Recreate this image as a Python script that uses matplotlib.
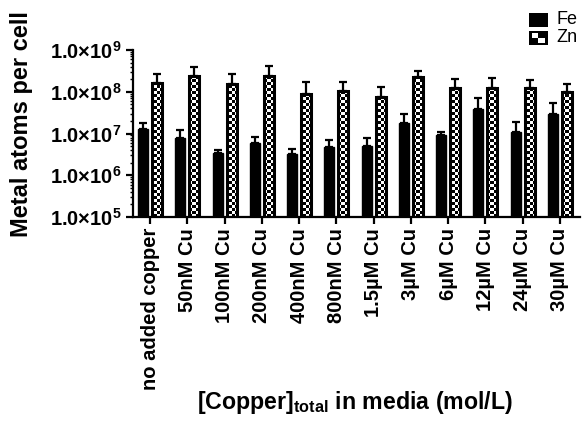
import numpy as np
import matplotlib
matplotlib.use("Agg")
import matplotlib.pyplot as plt
from matplotlib.ticker import LogLocator

plt.rcParams['font.family'] = ['Liberation Sans', 'DejaVu Sans']
plt.rcParams['mathtext.fontset'] = 'custom'
plt.rcParams['mathtext.rm'] = 'Liberation Sans:bold'
plt.rcParams['mathtext.bf'] = 'Liberation Sans:bold'
plt.rcParams['mathtext.it'] = 'Liberation Sans:bold'

categories = ["no added copper", "50nM Cu", "100nM Cu", "200nM Cu", "400nM Cu",
              "800nM Cu", "1.5µM Cu", "3µM Cu", "6µM Cu", "12µM Cu", "24µM Cu", "30µM Cu"]
fe_mean = [1.3e7, 7.7e6, 3.4e6, 6.0e6, 3.2e6, 4.8e6, 5.1e6, 1.75e7, 9.1e6, 3.9e7, 1.1e7, 2.9e7]
fe_upper = [1.8e7, 1.2e7, 4.1e6, 8.3e6, 4.3e6, 6.9e6, 7.9e6, 3.0e7, 1.1e7, 6.9e7, 1.9e7, 5.3e7]
zn_mean = [1.65e8, 2.4e8, 1.55e8, 2.4e8, 9.0e7, 1.07e8, 7.6e7, 2.3e8, 1.2e8, 1.26e8, 1.2e8, 1.0e8]
zn_upper = [2.6e8, 4.0e8, 2.7e8, 4.2e8, 1.75e8, 1.75e8, 1.3e8, 3.1e8, 2.0e8, 2.1e8, 1.86e8, 1.55e8]
ytick_exps = [5, 6, 7, 8, 9]

fig = plt.figure(figsize=(5.82, 4.26), dpi=100)
ax = fig.add_axes([133/582, 1-217/426, 447/582, 167/426])

x = np.arange(len(categories))
off = 0.19
w = 0.27

fe_mean_a = np.array(fe_mean); zn_mean_a = np.array(zn_mean)
ax.errorbar(x - off, fe_mean_a, yerr=[np.zeros(len(x)), np.array(fe_upper) - fe_mean_a],
            fmt='none', ecolor='black', elinewidth=1.6, capsize=3, capthick=1.6, zorder=1)
ax.errorbar(x + off, zn_mean_a, yerr=[np.zeros(len(x)), np.array(zn_upper) - zn_mean_a],
            fmt='none', ecolor='black', elinewidth=1.6, capsize=3, capthick=1.6, zorder=1)

ax.bar(x - off, fe_mean, width=w, color='black', edgecolor='black', linewidth=1.0, zorder=2)
zn_bars = ax.bar(x + off, zn_mean, width=w, color='white', edgecolor='black', linewidth=1.0, zorder=2)

# checker pattern
cell = 3
ncols = int(447 / cell) + 1
nrows = int(167 / cell) + 1
ii, jj = np.meshgrid(np.arange(ncols), np.arange(nrows))
checker = ((ii + jj) % 2).astype(float)
for r in zn_bars:
    im = ax.imshow(checker, extent=[0, 1, 0, 1], transform=ax.transAxes, aspect='auto',
                   interpolation='nearest', cmap='gray', vmin=0, vmax=1, zorder=2.5)
    im.set_clip_path(r)
ax.bar(x + off, zn_mean, width=w, facecolor='none', edgecolor='black', linewidth=2.2, zorder=3)

ax.set_yscale('log')
ax.set_ylim(1e5, 1e9)
ax.set_xlim(-0.46, 11.54)
ax.set_yticks([10.0**e for e in ytick_exps])
ax.set_yticklabels([r'$\mathbf{1.0{\times}10^{%d}}$' % e for e in ytick_exps])
ax.yaxis.set_minor_locator(LogLocator(base=10, subs=np.arange(2, 10)))
ax.set_xticks(x)
ax.set_xticklabels(categories, rotation=90, fontweight='bold', fontsize=14.5)
for lab in ax.get_yticklabels():
    lab.set_fontsize(14.5)

for s in ['top', 'right']:
    ax.spines[s].set_visible(False)
for s in ['left', 'bottom']:
    ax.spines[s].set_linewidth(1.6)
ax.tick_params(axis='both', which='major', width=1.6, length=5, pad=3)
ax.tick_params(axis='y', which='minor', width=1.0, length=2.5)
ax.tick_params(axis='x', which='minor', length=0)

fig.text(22/582, 1-124/426, 'Metal atoms per cell', fontsize=17, fontweight='bold',
         rotation=90, ha='center', va='center')
fig.text(355/582, 1-403/426, r'[Copper]$_{\mathbf{total}}$ in media (mol/L)', fontsize=16.7,
         fontweight='bold', ha='center', va='center')

# legend
la1 = fig.add_axes([529/582, 1-27/426, 19/582, 14/426])
la1.imshow(np.zeros((2, 2)), cmap='gray', vmin=0, vmax=1, aspect='auto')
la1.axis('off')
la2 = fig.add_axes([529/582, 1-45/426, 19/582, 14/426])
sym = np.zeros((6, 6))
sym[1:5, 1:5] = (np.add.outer(np.arange(4) // 2, np.arange(4) // 2) % 2 == 0).astype(float)
la2.imshow(sym, cmap='gray', vmin=0, vmax=1, aspect='auto', interpolation='nearest')
la2.axis('off')
fig.text(556/582, 1-20/426, 'Fe', fontsize=13, va='center', ha='left')
fig.text(556/582, 1-38/426, 'Zn', fontsize=13, va='center', ha='left')

fig.savefig('out.png', dpi=100)
